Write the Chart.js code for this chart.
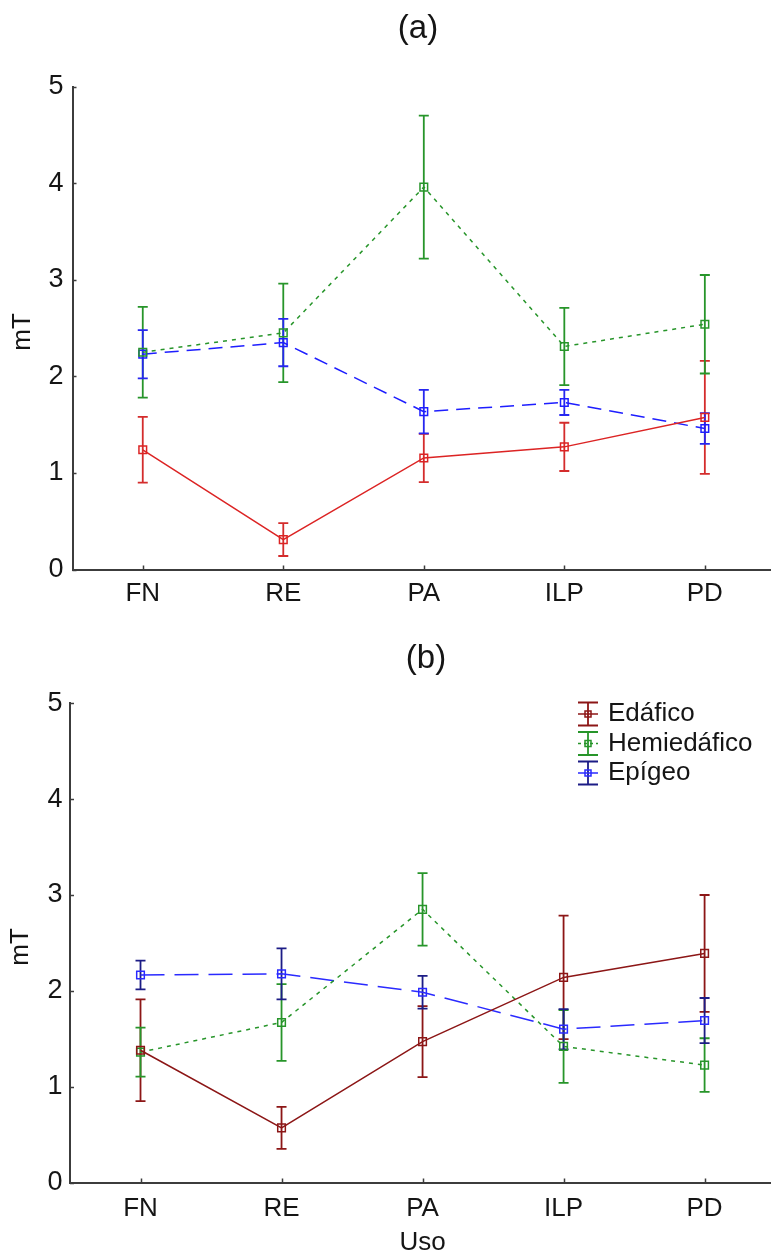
<!DOCTYPE html>
<html>
<head>
<meta charset="utf-8">
<script src="https://cdn.jsdelivr.net/npm/chart.js@4.4.1/dist/chart.umd.min.js"></script>
<style>
  html, body { margin: 0; padding: 0; background: #fff; overflow: hidden; }
  .page { width: 771px; height: 1257px; overflow: hidden; position: relative; background: #fff; }
  canvas { display: block; }
</style>
</head>
<body>
<div class="page">
  <canvas id="chartA" width="782" height="615"></canvas>
  <canvas id="chartB" width="782" height="642"></canvas>
</div>
<script>
// Land-use categories on the x axis
const usos = ['FN', 'RE', 'PA', 'ILP', 'PD'];
const yTicks = [0, 1, 2, 3, 4, 5];
const seriesNames = ['Edáfico', 'Hemiedáfico', 'Epígeo'];

// Panel (a): means and error half-widths
const edaficoA     = [1.24, 0.31, 1.155, 1.27, 1.575];
const edaficoErrA  = [0.34, 0.17, 0.25, 0.25, 0.585];
const hemiA        = [2.25, 2.45, 3.96, 2.31, 2.54];
const hemiErrA     = [0.47, 0.51, 0.74, 0.40, 0.51];
const epigeoA      = [2.23, 2.35, 1.635, 1.73, 1.46];
const epigeoErrA   = [0.25, 0.245, 0.225, 0.13, 0.16];

// Panel (b): means and error half-widths
const edaficoB     = [1.38, 0.57, 1.47, 2.14, 2.39];
const edaficoErrB  = [0.53, 0.22, 0.37, 0.645, 0.61];
const hemiB        = [1.36, 1.67, 2.85, 1.42, 1.225];
const hemiErrB     = [0.255, 0.40, 0.378, 0.38, 0.28];
const epigeoB      = [2.165, 2.177, 1.985, 1.60, 1.69];
const epigeoErrB   = [0.15, 0.266, 0.17, 0.21, 0.235];

const FONT = '"Liberation Sans", Arial, sans-serif';
const TEXT = '#151515';

function series(label, values, errors, color, errColor, dash) {
  return {
    label: label,
    data: values,
    errors: errors,
    errorColor: errColor,
    borderColor: color,
    borderWidth: 1.5,
    borderDash: dash,
    pointStyle: 'rect',
    pointRadius: 5.4,
    pointBorderWidth: 1.5,
    pointBorderColor: color,
    pointBackgroundColor: 'rgba(0,0,0,0)',
    fill: false,
    tension: 0
  };
}

// Vertical error bars with caps, drawn through the scales
const errorBars = {
  id: 'errorBars',
  beforeDatasetsDraw(chart) {
    const ctx = chart.ctx;
    const y = chart.scales.y;
    chart.data.datasets.forEach((ds, i) => {
      const meta = chart.getDatasetMeta(i);
      ctx.save();
      ctx.strokeStyle = ds.errorColor;
      ctx.lineWidth = 1.8;
      ctx.setLineDash([]);
      meta.data.forEach((pt, j) => {
        const v = ds.data[j], e = ds.errors[j];
        const top = y.getPixelForValue(v + e);
        const bot = y.getPixelForValue(v - e);
        const x = pt.x;
        ctx.beginPath();
        ctx.moveTo(x, top); ctx.lineTo(x, bot);
        ctx.moveTo(x - 5, top); ctx.lineTo(x + 5, top);
        ctx.moveTo(x - 5, bot); ctx.lineTo(x + 5, bot);
        ctx.stroke();
      });
      ctx.restore();
    });
  }
};

// Inward tick marks, panel title, axis titles and legend
const decorations = {
  id: 'decorations',
  afterDraw(chart, args, opts) {
    const ctx = chart.ctx;
    const area = chart.chartArea;
    const xs = chart.scales.x, ys = chart.scales.y;
    ctx.save();
    ctx.strokeStyle = '#3c3c3c';
    ctx.lineWidth = 1.5;
    ctx.beginPath();
    yTicks.forEach(t => {
      const py = Math.round(ys.getPixelForValue(t)) + 0.5;
      ctx.moveTo(area.left, py); ctx.lineTo(area.left + 4, py);
    });
    usos.forEach((u, i) => {
      const px = Math.round(xs.getPixelForValue(i)) + 0.5;
      ctx.moveTo(px, area.bottom); ctx.lineTo(px, area.bottom - 4);
    });
    ctx.stroke();

    ctx.fillStyle = TEXT;
    ctx.textAlign = 'center';
    ctx.textBaseline = 'middle';
    ctx.font = '33px ' + FONT;
    ctx.fillText(opts.title, opts.titleX, opts.titleY);

    ctx.save();
    ctx.translate(opts.yTitleX, opts.yTitleY);
    ctx.rotate(-Math.PI / 2);
    ctx.font = '26px ' + FONT;
    ctx.fillText('mT', 0, 0);
    ctx.restore();

    if (opts.xTitle) {
      ctx.font = '26px ' + FONT;
      ctx.fillText(opts.xTitle, (area.left + area.right) / 2, opts.xTitleY);
    }

    if (opts.legend) {
      const L = opts.legend;
      chart.data.datasets.forEach((ds, k) => {
        const cy = L.top + k * L.step;
        const cx = L.iconX;
        ctx.lineWidth = 1.8;
        ctx.setLineDash([]);
        ctx.strokeStyle = ds.errorColor;
        ctx.beginPath();
        ctx.moveTo(cx, cy - 11.5); ctx.lineTo(cx, cy + 11.5);
        ctx.moveTo(cx - 10, cy - 11.5); ctx.lineTo(cx + 10, cy - 11.5);
        ctx.moveTo(cx - 10, cy + 11.5); ctx.lineTo(cx + 10, cy + 11.5);
        ctx.stroke();
        ctx.strokeStyle = ds.borderColor;
        ctx.lineWidth = 1.5;
        ctx.setLineDash(k === 1 ? [3, 3] : []);
        ctx.beginPath();
        ctx.moveTo(cx - 10, cy); ctx.lineTo(cx + 10, cy);
        ctx.stroke();
        ctx.setLineDash([]);
        ctx.strokeRect(cx - 3, cy - 3, 6, 6);
        ctx.fillStyle = TEXT;
        ctx.textAlign = 'left';
        ctx.font = '26px ' + FONT;
        ctx.fillText(ds.label, L.textX, cy);
      });
    }
    ctx.restore();
  }
};

function makeChart(id, datasets, cfg) {
  return new Chart(document.getElementById(id), {
    type: 'line',
    data: { labels: usos, datasets: datasets },
    options: {
      responsive: false,
      animation: false,
      devicePixelRatio: 1,
      layout: { padding: cfg.padding },
      plugins: {
        legend: { display: false },
        tooltip: { enabled: false },
        decorations: cfg.deco
      },
      scales: {
        x: {
          type: 'category',
          offset: true,
          grid: { display: false, drawTicks: false },
          border: { display: true, color: '#3c3c3c', width: 2 },
          ticks: {
            color: TEXT, font: { family: FONT, size: 26 },
            padding: cfg.xPad, maxRotation: 0, autoSkip: false
          },
          afterFit: s => { s.height = 40; }
        },
        y: {
          min: 0, max: 5,
          grid: { display: false, drawTicks: false },
          border: { display: true, color: '#3c3c3c', width: 2 },
          ticks: {
            stepSize: 1, color: TEXT, font: { family: FONT, size: 27 },
            padding: cfg.yPad
          },
          afterFit: s => { s.width = cfg.yWidth; }
        }
      }
    },
    plugins: [errorBars, decorations]
  });
}

makeChart('chartA', [
  series(seriesNames[0], edaficoA, edaficoErrA, '#dc2424', '#d42c2c', []),
  series(seriesNames[1], hemiA, hemiErrA, '#27952a', '#27952a', [4, 5]),
  series(seriesNames[2], epigeoA, epigeoErrA, '#1e1eff', '#2626f0', [14, 8])
], {
  padding: { top: 86.7, bottom: 5.5, left: 0, right: 2.5 },
  yWidth: 72.5, xPad: 9, yPad: 9,
  deco: { title: '(a)', titleX: 418, titleY: 29, yTitleX: 23, yTitleY: 332 }
});

makeChart('chartB', [
  series(seriesNames[0], edaficoB, edaficoErrB, '#8c1616', '#8c1616', []),
  series(seriesNames[1], hemiB, hemiErrB, '#27952a', '#27952a', [4, 5]),
  series(seriesNames[2], epigeoB, epigeoErrB, '#2a2aff', '#1c1c86', [24, 10])
], {
  padding: { top: 88.3, bottom: 34.5, left: 0, right: 6.2 },
  yWidth: 70, xPad: 10.5, yPad: 7.5,
  deco: {
    title: '(b)', titleX: 426, titleY: 44, yTitleX: 21, yTitleY: 332,
    xTitle: 'Uso', xTitleY: 628,
    legend: { top: 99, step: 29.5, iconX: 588, textX: 608 }
  }
});
</script>
</body>
</html>
